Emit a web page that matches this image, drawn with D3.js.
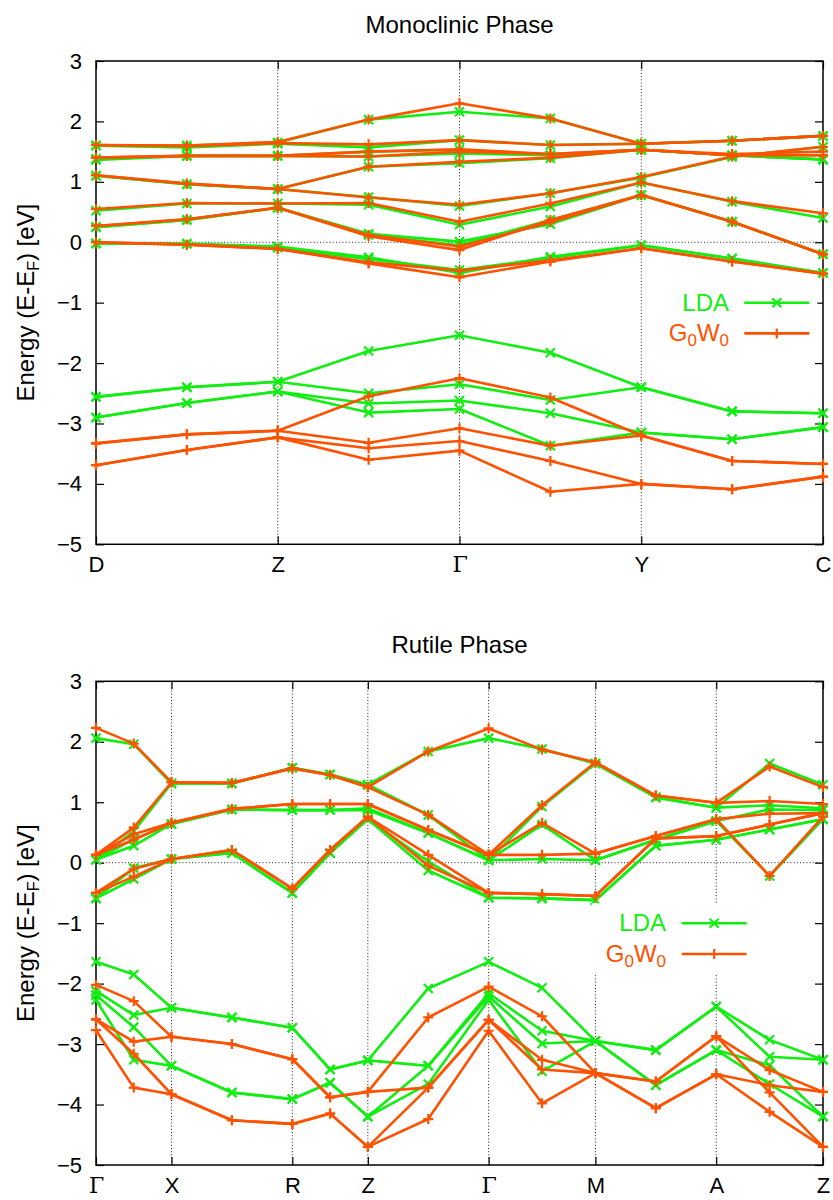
<!DOCTYPE html>
<html><head><meta charset="utf-8">
<script src="https://cdn.jsdelivr.net/npm/d3@7"></script>
<style>
body{margin:0;background:#fff}
text{font-family:"Liberation Sans",Arial,Helvetica,sans-serif;fill:#000}
</style>
</head><body>
<svg id="chart" width="833" height="1200"></svg>
<script>
// ---------------- DATA ----------------
const yTicks = [-5,-4,-3,-2,-1,0,1,2,3];

// Monoclinic phase: k-path D - Z - Γ - Y - C (evenly spaced points)
const monoKpos = [0,1,2,3,4,5,6,7,8];
const monoKlabels = ["D","","Z","","Γ","","Y","","C"];
const monoLDA = [
  [1.60,1.60,1.65,2.03,2.16,2.05,1.63,1.68,1.76],
  [1.60,1.57,1.63,1.57,1.69,1.61,1.63,1.68,1.76],
  [1.36,1.43,1.43,1.50,1.53,1.44,1.53,1.44,1.37],
  [1.38,1.43,1.43,1.42,1.47,1.44,1.53,1.44,1.37],
  [1.10,0.96,0.88,1.25,1.31,1.39,1.53,1.44,1.37],
  [1.10,0.96,0.88,0.75,0.60,0.81,1.07,1.41,1.58],
  [0.52,0.64,0.64,0.62,0.29,0.59,0.99,0.67,0.40],
  [0.25,0.37,0.57,0.14,0.01,0.30,0.78,0.34,-0.20],
  [0.25,0.37,0.57,0.12,-0.05,0.37,0.78,0.34,-0.20],
  [-0.02,-0.02,-0.07,-0.25,-0.51,-0.24,-0.05,-0.27,-0.51],
  [-0.02,-0.03,-0.09,-0.28,-0.46,-0.26,-0.05,-0.27,-0.51],
  [-2.56,-2.40,-2.31,-1.80,-1.54,-1.83,-2.40,-2.80,-2.83],
  [-2.56,-2.40,-2.31,-2.50,-2.35,-2.61,-2.40,-2.80,-2.83],
  [-2.90,-2.66,-2.47,-2.67,-2.62,-2.83,-3.15,-3.26,-3.06],
  [-2.90,-2.66,-2.47,-2.82,-2.76,-3.37,-3.15,-3.26,-3.06]
];
const monoGW = [
  [1.61,1.60,1.66,2.03,2.30,2.05,1.63,1.68,1.76],
  [1.61,1.59,1.64,1.62,1.69,1.61,1.63,1.68,1.76],
  [1.40,1.43,1.43,1.50,1.54,1.46,1.53,1.46,1.50],
  [1.40,1.43,1.43,1.42,1.50,1.46,1.53,1.44,1.44],
  [1.11,0.97,0.88,1.25,1.33,1.40,1.53,1.44,1.44],
  [1.11,0.97,0.88,0.74,0.62,0.81,1.08,1.42,1.58],
  [0.55,0.65,0.64,0.65,0.34,0.64,0.99,0.68,0.48],
  [0.27,0.38,0.57,0.12,-0.07,0.33,0.78,0.34,-0.20],
  [0.27,0.38,0.57,0.10,-0.13,0.37,0.78,0.34,-0.20],
  [0.00,-0.04,-0.11,-0.35,-0.58,-0.32,-0.10,-0.32,-0.52],
  [0.00,-0.04,-0.11,-0.33,-0.47,-0.30,-0.10,-0.32,-0.52],
  [-3.33,-3.18,-3.12,-2.55,-2.25,-2.57,-3.20,-3.62,-3.67],
  [-3.33,-3.18,-3.12,-3.32,-3.08,-3.37,-3.20,-3.62,-3.67],
  [-3.69,-3.44,-3.23,-3.41,-3.29,-3.62,-4.00,-4.09,-3.88],
  [-3.69,-3.44,-3.23,-3.60,-3.45,-4.13,-4.00,-4.09,-3.88]
];

// Rutile phase: k-path Γ - X - R - Z - Γ - M - A - Z (path lengths)
const rutKpos = [0,0.5,1,1.8,2.6,3.1,3.6,4.4,5.2,5.907,6.614,7.414,8.214,8.921,9.628];
const rutKlabels = ["Γ","","X","","R","","Z","","Γ","","M","","A","","Z"];
const rutLDA = [
  [2.06,1.96,1.31,1.31,1.57,1.46,1.29,1.84,2.06,1.88,1.64,1.08,0.91,1.64,1.29],
  [0.05,0.52,1.31,1.31,1.57,1.46,1.29,0.79,0.04,0.93,1.64,1.08,0.91,0.95,0.90],
  [0.05,0.39,0.64,0.88,0.87,0.87,0.90,0.49,0.04,0.63,0.04,0.38,0.69,0.88,0.87],
  [0.05,0.28,0.64,0.88,0.87,0.87,0.87,0.49,0.04,0.06,0.04,0.38,0.69,-0.22,0.72],
  [-0.59,-0.09,0.06,0.16,-0.50,0.16,0.72,0.02,-0.58,-0.59,-0.62,0.28,0.38,0.55,0.72],
  [-0.59,-0.27,0.06,0.16,-0.50,0.16,0.72,-0.13,-0.58,-0.59,-0.62,0.28,0.38,0.55,0.72],
  [-1.64,-1.85,-2.40,-2.56,-2.73,-3.42,-3.27,-2.08,-1.64,-2.07,-2.95,-3.10,-2.38,-2.93,-3.26],
  [-2.12,-2.52,-2.40,-2.56,-2.73,-3.42,-3.27,-3.36,-2.16,-2.78,-2.95,-3.10,-2.38,-3.21,-3.26],
  [-2.19,-2.72,-3.36,-3.80,-3.91,-3.64,-4.20,-3.36,-2.21,-2.99,-2.95,-3.68,-3.10,-3.35,-4.20],
  [-2.27,-3.26,-3.36,-3.80,-3.91,-3.64,-4.20,-3.66,-2.27,-3.45,-2.95,-3.68,-3.10,-3.66,-4.20]
];
const rutGW = [
  [2.23,1.97,1.33,1.32,1.56,1.45,1.25,1.84,2.22,1.87,1.66,1.11,0.99,1.59,1.25],
  [0.13,0.58,1.33,1.32,1.56,1.45,1.25,0.79,0.13,0.95,1.66,1.11,0.99,1.02,0.97],
  [0.13,0.47,0.66,0.89,0.97,0.97,0.97,0.54,0.13,0.66,0.15,0.44,0.72,0.81,0.82],
  [0.13,0.38,0.66,0.89,0.97,0.97,0.97,0.54,0.13,0.13,0.15,0.44,0.72,-0.22,0.76],
  [-0.50,-0.10,0.06,0.21,-0.43,0.21,0.76,0.13,-0.50,-0.52,-0.55,0.40,0.44,0.63,0.82],
  [-0.50,-0.23,0.06,0.21,-0.43,0.21,0.76,-0.05,-0.50,-0.52,-0.55,0.40,0.44,0.63,0.82],
  [-2.02,-2.29,-2.88,-3.00,-3.25,-3.88,-3.79,-2.56,-2.05,-2.54,-3.48,-3.62,-2.87,-3.43,-3.79],
  [-2.59,-2.96,-2.88,-3.00,-3.25,-3.88,-3.79,-3.72,-2.60,-3.26,-3.48,-3.62,-2.87,-3.80,-4.70],
  [-2.59,-3.16,-3.83,-4.26,-4.32,-4.15,-4.70,-3.72,-2.60,-3.42,-3.48,-4.06,-3.50,-3.68,-3.79],
  [-2.77,-3.72,-3.83,-4.26,-4.32,-4.15,-4.70,-4.24,-2.78,-3.98,-3.48,-4.06,-3.50,-4.12,-4.70]
];

const seriesNames = ["LDA","G0W0"];
const seriesColors = ["#11ee11","#ff5200"];

// ---------------- DRAW ----------------
const svg = d3.select("#chart");
const L = 96, R = 823;

function drawPanel(o){
  const g = svg.append("g");
  const x = d3.scaleLinear().domain([o.kpos[0], o.kpos[o.kpos.length-1]]).range([L,R]);
  const y = d3.scaleLinear().domain([-5,3]).range([o.bottom,o.top]);

  // title
  g.append("text").attr("x",(L+R)/2).attr("y",o.titleY).attr("text-anchor","middle")
    .style("font-size","24px").text(o.title);

  // grid (dotted) at interior high-symmetry points and y = 0
  const sym = o.kpos.filter((k,i)=>o.klabels[i]!=="" && i>0 && i<o.kpos.length-1);
  g.selectAll(".vg").data(sym).enter().append("line")
    .attr("x1",d=>x(d)).attr("x2",d=>x(d)).attr("y1",y(-5)).attr("y2",y(3))
    .attr("stroke","#222").attr("stroke-width",1).attr("stroke-dasharray","1,2.2");
  g.append("line").attr("x1",L).attr("x2",R).attr("y1",y(0)).attr("y2",y(0))
    .attr("stroke","#222").attr("stroke-width",1).attr("stroke-dasharray","1,2.2");

  // legend background (opaque key)
  const keyG = svg.append("g");

  // axes via d3
  const yl = d3.axisLeft(y).tickValues(yTicks).tickSize(-8).tickPadding(14).tickFormat(d3.format("d"));
  const ya = g.append("g").attr("transform",`translate(${L},0)`).call(yl);
  ya.select(".domain").remove();
  ya.selectAll("text").style("font-size","22px").attr("font-family",'"Liberation Sans",Arial,sans-serif');
  ya.selectAll("line").attr("stroke","#000").attr("stroke-width",1.2);
  const yr = d3.axisRight(y).tickValues(yTicks).tickSize(-8).tickFormat("");
  const yra = g.append("g").attr("transform",`translate(${R},0)`).call(yr);
  yra.select(".domain").remove();
  yra.selectAll("line").attr("stroke","#000").attr("stroke-width",1.2);

  const symAll = o.kpos.filter((k,i)=>o.klabels[i]!=="");
  const symLab = o.klabels.filter(l=>l!=="");
  const xb = d3.axisBottom(x).tickValues(symAll).tickSize(-8).tickPadding(12)
    .tickFormat((d,i)=>symLab[i]);
  const xa = g.append("g").attr("transform",`translate(0,${o.bottom})`).call(xb);
  xa.select(".domain").remove();
  xa.selectAll("line").attr("stroke","#000").attr("stroke-width",1.2);
  xa.selectAll("text").style("font-size","22px")
    .attr("font-family",d=>"")
    .each(function(d,i){ if(symLab[i]==="Γ") d3.select(this).style("font-family",'"DejaVu Serif","Liberation Serif",serif').style("font-size","22px"); });
  const xt = d3.axisTop(x).tickValues(symAll).tickSize(-8).tickFormat("");
  const xta = g.append("g").attr("transform",`translate(0,${o.top})`).call(xt);
  xta.select(".domain").remove();
  xta.selectAll("line").attr("stroke","#000").attr("stroke-width",1.2);

  // frame
  g.append("rect").attr("x",L).attr("y",o.top).attr("width",R-L).attr("height",o.bottom-o.top)
    .attr("fill","none").attr("stroke","#000").attr("stroke-width",1.5);

  // y label
  const yc = (o.top+o.bottom)/2;
  const lab = g.append("text").attr("transform",`translate(34,${yc}) rotate(-90)`)
    .attr("text-anchor","middle").style("font-size","24px");
  lab.append("tspan").text("Energy (E-E");
  lab.append("tspan").attr("dy",5).style("font-size","16px").text("F");
  lab.append("tspan").attr("dy",-5).text(") [eV]");

  // data
  const line = d3.line().x((d,i)=>x(o.kpos[i])).y(d=>y(d));
  const sets = [o.lda,o.gw];
  const mk = [
    "M-4.5,-4.5L4.5,4.5M-4.5,4.5L4.5,-4.5",
    "M-5,0L5,0M0,-5L0,5"
  ];
  sets.forEach((bands,si)=>{
    const sg = g.append("g");
    bands.forEach(b=>{
      sg.append("path").attr("d",line(b)).attr("fill","none")
        .attr("stroke",seriesColors[si]).attr("stroke-width",2.6).attr("stroke-linejoin","round");
    });
    bands.forEach(b=>{
      sg.selectAll(null).data(b).enter().append("path")
        .attr("transform",(d,i)=>`translate(${x(o.kpos[i])},${y(d)})`)
        .attr("d",mk[si]).attr("stroke",seriesColors[si]).attr("stroke-width",2.2).attr("fill","none");
    });
  });

  // legend
  const kg = svg.append("g");
  const rows = [o.keyY, o.keyY+30.7];
  const texts = [];
  rows.forEach((ry,si)=>{
    const t = kg.append("text").attr("x",o.keyTextX).attr("y",ry+8).attr("text-anchor","end")
      .style("font-size","24px").style("fill",seriesColors[si]);
    if(si===0){ t.text("LDA"); }
    else {
      t.append("tspan").text("G");
      t.append("tspan").attr("dy",5).style("font-size","17px").text("0");
      t.append("tspan").attr("dy",-5).text("W");
      t.append("tspan").attr("dy",5).style("font-size","17px").text("0");
    }
    texts.push(t);
    kg.append("line").attr("x1",o.keyLineX).attr("x2",o.keyLineX+65).attr("y1",ry).attr("y2",ry)
      .attr("stroke",seriesColors[si]).attr("stroke-width",2.6);
    kg.append("path").attr("transform",`translate(${o.keyLineX+32.5},${ry})`).attr("d",mk[si])
      .attr("stroke",seriesColors[si]).attr("stroke-width",2.2).attr("fill","none");
  });
  let minX = o.keyTextX;
  texts.forEach(t=>{ const bb=t.node().getBBox(); minX=Math.min(minX,bb.x); });
  keyG.append("rect").attr("x",minX-14).attr("y",rows[0]-20).attr("width",o.keyLineX+65+8-(minX-14))
    .attr("height",rows[1]-rows[0]+40).attr("fill","#fff");
  svg.node().appendChild(kg.node());
}

drawPanel({title:"Monoclinic Phase", titleY:33, top:61, bottom:544.3,
  kpos:monoKpos, klabels:monoKlabels, lda:monoLDA, gw:monoGW,
  keyY:302.7, keyTextX:729, keyLineX:744.3});
drawPanel({title:"Rutile Phase", titleY:653.3, top:681.3, bottom:1165,
  kpos:rutKpos, klabels:rutKlabels, lda:rutLDA, gw:rutGW,
  keyY:923.3, keyTextX:666, keyLineX:681.7});
</script>
</body></html>
